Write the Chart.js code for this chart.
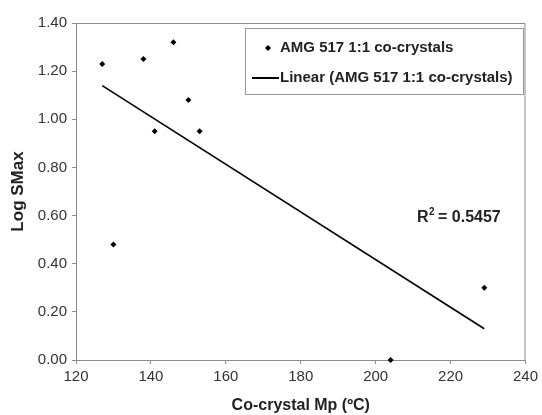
<!DOCTYPE html>
<html>
<head>
<meta charset="utf-8">
<script src="https://cdn.jsdelivr.net/npm/chart.js@4.4.1/dist/chart.umd.min.js"></script>
<style>
  html, body { margin: 0; padding: 0; background: #fff; }
  #wrap { width: 542px; height: 415px; }
</style>
</head>
<body>
<div id="wrap"><canvas id="chart" width="542" height="415"></canvas></div>
<script>
// melting point of co-crystal vs log SMax
const mpValues = [127, 130, 138, 141, 146, 150, 153, 204, 229];
const logSmax = [1.23, 0.48, 1.25, 0.95, 1.32, 1.08, 0.95, 0.00, 0.30];
// trendline end points
const trendMp = [127, 229];
const trendLog = [1.14, 0.13];
const seriesNames = ['AMG 517 1:1 co-crystals', 'Linear (AMG 517 1:1 co-crystals)'];
const rSquaredText = '0.5457';
const xTicks = [120, 140, 160, 180, 200, 220, 240];
const yTicks = [0, 0.2, 0.4, 0.6, 0.8, 1.0, 1.2, 1.4];

const FONT = 'Liberation Sans, Arial, sans-serif';
const AXIS_GREY = '#8a8a8a';
const TEXT = '#222';

// box legend + R² label inside the plot
const extrasPlugin = {
    id: 'extras',
    afterDraw(chart) {
        const ctx = chart.ctx;
        const a = chart.chartArea;
        ctx.save();

        // plot frame (top + right)
        ctx.strokeStyle = AXIS_GREY;
        ctx.lineWidth = 1;
        ctx.beginPath();
        ctx.moveTo(a.left, a.top + 0.5);
        ctx.lineTo(a.right - 0.5, a.top + 0.5);
        ctx.lineTo(a.right - 0.5, a.bottom);
        ctx.stroke();

        // legend
        const lx = 245.5, ly = a.top + 5.5, lw = a.right - 2 - lx, lh = 66;
        ctx.fillStyle = '#fff';
        ctx.fillRect(lx, ly, lw, lh);
        ctx.strokeStyle = '#999';
        ctx.strokeRect(lx, ly, lw, lh);

        ctx.font = 'bold 15px ' + FONT;
        ctx.fillStyle = TEXT;
        ctx.textBaseline = 'middle';
        ctx.textAlign = 'left';

        // marker item
        const y1 = ly + 19.5, y2 = ly + 49.5;
        ctx.beginPath();
        ctx.moveTo(268, y1 - 3);
        ctx.lineTo(271, y1);
        ctx.lineTo(268, y1 + 3);
        ctx.lineTo(265, y1);
        ctx.closePath();
        ctx.fillStyle = '#000';
        ctx.fill();
        ctx.fillStyle = TEXT;
        ctx.fillText(seriesNames[0], 280, y1);

        // line item
        ctx.strokeStyle = '#000';
        ctx.lineWidth = 2;
        ctx.beginPath();
        ctx.moveTo(252, y2);
        ctx.lineTo(279, y2);
        ctx.stroke();
        ctx.fillText(seriesNames[1], 280, y2);

        // R squared
        ctx.font = 'bold 16px ' + FONT;
        const rx = 417, ry = 218;
        ctx.fillText('R', rx, ry);
        const rw = ctx.measureText('R').width;
        ctx.font = 'bold 10px ' + FONT;
        ctx.fillText('2', rx + rw + 0.5, ry - 6);
        ctx.font = 'bold 16px ' + FONT;
        ctx.fillText(' = ' + rSquaredText, rx + rw + 5, ry);

        ctx.restore();
    }
};

const ctx = document.getElementById('chart').getContext('2d');

new Chart(ctx, {
    type: 'scatter',
    data: {
        datasets: [
            {
                label: seriesNames[0],
                data: mpValues.map((x, i) => ({ x: x, y: logSmax[i] })),
                pointStyle: 'rectRot',
                pointRadius: 3,
                backgroundColor: '#000',
                borderColor: '#000',
                borderWidth: 0,
                clip: false
            },
            {
                label: seriesNames[1],
                data: trendMp.map((x, i) => ({ x: x, y: trendLog[i] })),
                showLine: true,
                pointRadius: 0,
                borderColor: '#000',
                borderWidth: 1.6,
                clip: false
            }
        ]
    },
    options: {
        responsive: false,
        animation: false,
        layout: { padding: { top: 23, right: 14, left: 0, bottom: 0 } },
        plugins: {
            legend: { display: false },
            tooltip: { enabled: false }
        },
        scales: {
            x: {
                type: 'linear',
                min: 120,
                max: 240,
                afterBuildTicks: (scale) => { scale.ticks = xTicks.map(v => ({ value: v })); },
                afterFit: (scale) => { scale.height = 55; },
                grid: { drawOnChartArea: false, drawTicks: true, tickLength: 4, color: AXIS_GREY },
                border: { display: true, color: AXIS_GREY, width: 1 },
                ticks: {
                    color: '#333',
                    font: { family: FONT, size: 15 },
                    padding: 4,
                    maxRotation: 0
                },
                title: {
                    display: true,
                    text: 'Co-crystal Mp (ºC)',
                    color: TEXT,
                    font: { family: FONT, size: 16, weight: 'bold' },
                    padding: { top: 3, bottom: 0 }
                }
            },
            y: {
                type: 'linear',
                min: 0,
                max: 1.4,
                afterBuildTicks: (scale) => { scale.ticks = yTicks.map(v => ({ value: v })); },
                afterFit: (scale) => { scale.width = 76; },
                grid: { drawOnChartArea: false, drawTicks: true, tickLength: 4, color: AXIS_GREY },
                border: { display: true, color: AXIS_GREY, width: 1 },
                ticks: {
                    color: '#333',
                    font: { family: FONT, size: 15 },
                    padding: 5,
                    callback: (v) => Number(v).toFixed(2)
                },
                title: {
                    display: true,
                    text: 'Log SMax',
                    color: TEXT,
                    font: { family: FONT, size: 17, weight: 'bold' },
                    padding: { top: 8, bottom: 0 }
                }
            }
        }
    },
    plugins: [extrasPlugin]
});
</script>
</body>
</html>
